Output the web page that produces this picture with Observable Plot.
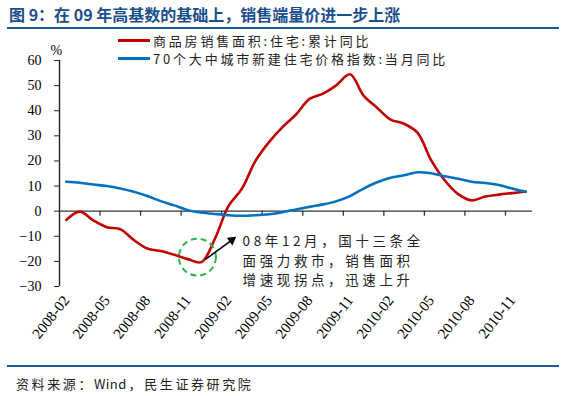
<!DOCTYPE html>
<html><head><meta charset="utf-8">
<script src="https://cdn.jsdelivr.net/npm/d3@7"></script>
<script src="https://cdn.jsdelivr.net/npm/@observablehq/plot@0.6"></script>
<style>
body{margin:0;background:#fff;}
#wrap{position:relative;width:565px;height:396px;overflow:hidden;font-family:"Noto Sans CJK SC",sans-serif;}
#title{position:absolute;left:9px;top:2px;font-size:16px;line-height:24px;font-weight:bold;color:#1a4e8e;letter-spacing:0px;white-space:nowrap;}
.hr{position:absolute;left:7px;width:552px;height:2px;background:#1f5a97;}
#legend{position:absolute;left:118px;top:31px;font-size:13px;color:#222;}
.li{display:flex;align-items:center;height:18px;letter-spacing:2.8px;white-space:nowrap;}
.sw{width:32px;height:3px;margin-right:3px;}
#source{position:absolute;left:16px;top:374px;font-size:13px;line-height:20px;color:#222;letter-spacing:2.6px;white-space:nowrap;}
#source span{letter-spacing:0.4px;margin-right:2px;}
#chart{position:absolute;left:0;top:0;}
</style></head>
<body>
<div id="wrap">
  <div id="chart"></div>
  <div id="title">图 9：在 09 年高基数的基础上，销售端量价进一步上涨</div>
  <div class="hr" style="top:27px"></div>
  <div id="legend"></div>
  <div class="hr" style="top:365px"></div>
  <div id="source">资料来源：<span>Wind</span>，民生证券研究院</div>
</div>
<script>
// ---- data ----
const months = ["2008-02","2008-03","2008-04","2008-05","2008-06","2008-07","2008-08","2008-09","2008-10","2008-11","2008-12",
  "2009-01","2009-02","2009-03","2009-04","2009-05","2009-06","2009-07","2009-08","2009-09","2009-10","2009-11","2009-12",
  "2010-01","2010-02","2010-03","2010-04","2010-05","2010-06","2010-07","2010-08","2010-09","2010-10","2010-11","2010-12"];
const salesAreaYoY = [-3.5,-0.2,-3.7,-6.4,-7.2,-11.5,-14.9,-15.9,-17.4,-19.1,-20.3,
  -11.0,2.0,9.0,20.0,27.5,33.5,38.5,44.7,46.8,50.2,54.5,46.0,
  41.2,36.5,34.8,31.2,20.3,12.3,6.8,4.3,5.8,6.6,7.2,7.8];
const priceYoY = [11.7,11.3,10.6,10.0,9.0,7.7,6.0,4.0,2.3,0.4,-0.5,
  -1.1,-1.6,-1.8,-1.6,-1.2,-0.4,0.7,1.7,2.7,4.0,6.0,9.0,
  11.5,13.3,14.3,15.5,15.1,13.9,12.9,11.7,11.2,10.4,9.0,7.7];
const seriesNames = ["商品房销售面积:住宅:累计同比","70个大中城市新建住宅价格指数:当月同比"];
const seriesColors = ["#c00000","#0070c0"];
const yTicks = [-30,-20,-10,0,10,20,30,40,50,60];
const labelStep = 3;
const annotationLines = ["08年12月，国十三条全","面强力救市，销售面积","增速现拐点，迅速上升"];

// ---- build ----
const rows = months.map((m, i) => ({i, month: m, red: salesAreaYoY[i], blue: priceYoY[i]}));
const n = months.length;
const labelIdx = d3.range(0, n, labelStep);
const tickPos = d3.range(labelStep - 0.5, n - 0.5, labelStep);
const minIdx = d3.minIndex(salesAreaYoY);
const minRow = rows[minIdx];

const W = 565, H = 396, ML = 59, MR = 33, MT = 60, MB = 110;
const pxPerI = (W - ML - MR) / n, pxPerV = (H - MT - MB) / (yTicks[yTicks.length-1] - yTicks[0]);
const arrow = {x1: minIdx + 0.3, y1: salesAreaYoY[minIdx] + 1.1, x2: minIdx + 2.25, y2: salesAreaYoY[minIdx] + 8.8};
const ang = Math.atan2(-(arrow.y2 - arrow.y1) * pxPerV, (arrow.x2 - arrow.x1) * pxPerI) * 180 / Math.PI + 90;
const annot = {x: minIdx + 3.05, y: salesAreaYoY[minIdx] + 1.05, text: annotationLines.join("\n")};

const chart = Plot.plot({
  width: W, height: H,
  marginLeft: ML, marginRight: MR, marginTop: MT, marginBottom: MB,
  x: {type: "linear", domain: [-0.5, n - 0.5]},
  y: {domain: [yTicks[0], yTicks[yTicks.length-1]]},
  style: {background: "transparent", fontFamily: "'Liberation Serif', serif", fontSize: "14px", color: "#000"},
  marks: [
    Plot.axisY(yTicks, {tickSize: 5, tickPadding: 13, label: null, stroke: "#222", fontSize: 14}),
    Plot.axisX(labelIdx, {tickFormat: i => months[i], tickSize: 0, tickPadding: 11, tickRotate: -52, label: null, fontSize: 15}),
    Plot.ruleX([-0.5], {y1: yTicks[0], y2: yTicks[yTicks.length-1], stroke: "#222", strokeWidth: 1.4}),
    Plot.ruleY([0], {x1: -0.5, x2: n - 0.5, stroke: "#333", strokeWidth: 1.4}),
    Plot.ruleX(tickPos, {y1: 0, y2: -2, stroke: "#333", strokeWidth: 1.3}),
    Plot.text(["%"], {text: d => d, frameAnchor: "top-left", dx: -9, dy: -15, fontSize: 14}),
    Plot.line(rows, {x: "i", y: "red", curve: "catmull-rom", stroke: seriesColors[0], strokeWidth: 2.6}),
    Plot.line(rows, {x: "i", y: "blue", curve: "catmull-rom", stroke: seriesColors[1], strokeWidth: 2.6}),
    Plot.dot([minRow], {x: "i", y: "red", r: 18.5, dx: -4, dy: -5, stroke: "#2eb04d", strokeWidth: 2, strokeDasharray: "6,4", fill: "none"}),
    Plot.link([arrow], {x1: "x1", y1: "y1", x2: "x2", y2: "y2", stroke: "#000", strokeWidth: 1.5}),
    Plot.dot([arrow], {x: "x2", y: "y2", symbol: "triangle2", r: 4.5, fill: "#000", rotate: ang}),
    Plot.text([annot], {x: "x", y: "y", text: "text", textAnchor: "start", lineAnchor: "middle", lineHeight: 1.45,
      fontSize: 13.5, fontFamily: "'Noto Sans CJK SC', sans-serif", fill: "#222", ariaDescription: "annot"})
  ]
});
document.getElementById("chart").appendChild(chart);
d3.select(chart).selectAll('g[aria-description="annot"] text, g[aria-description="annot"] tspan').style("letter-spacing", "3.6px");

const legend = document.getElementById("legend");
seriesNames.forEach((name, k) => {
  const row = document.createElement("div");
  row.className = "li";
  const sw = document.createElement("span");
  sw.className = "sw";
  sw.style.background = seriesColors[k];
  row.appendChild(sw);
  row.appendChild(document.createTextNode(name));
  legend.appendChild(row);
});
</script>
</body></html>
